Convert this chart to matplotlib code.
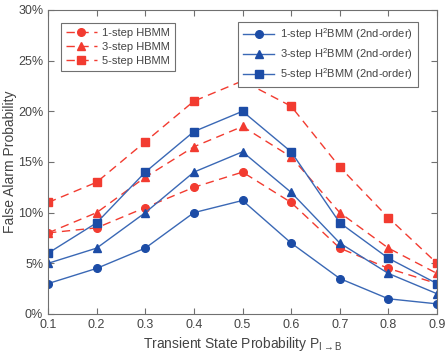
import numpy as np
import matplotlib.pyplot as plt
from matplotlib.ticker import PercentFormatter

plt.rcParams['font.family'] = ['Liberation Sans', 'DejaVu Sans']
plt.rcParams['mathtext.fontset'] = 'custom'
plt.rcParams['mathtext.rm'] = 'Liberation Sans'
plt.rcParams['mathtext.it'] = 'Liberation Sans'

# transient state probability
p = [0.1, 0.2, 0.3, 0.4, 0.5, 0.6, 0.7, 0.8, 0.9]

# false alarm probability (%)
h2_1 = [3.0, 4.5, 6.5, 10.0, 11.2, 7.0, 3.5, 1.5, 1.0]
h2_3 = [5.0, 6.5, 10.0, 14.0, 16.0, 12.0, 7.0, 4.0, 2.0]
h2_5 = [6.0, 9.0, 14.0, 18.0, 20.0, 16.0, 9.0, 5.5, 3.0]
hb_1 = [8.0, 8.5, 10.5, 12.5, 14.0, 11.0, 6.5, 4.5, 3.0]
hb_3 = [8.0, 10.0, 13.5, 16.5, 18.5, 15.5, 10.0, 6.5, 4.0]
hb_5 = [11.0, 13.0, 17.0, 21.0, 23.0, 20.5, 14.5, 9.5, 5.0]

red = '#f23b30'
blue_line = '#3a68b5'
blue_mk = '#1c4ca6'
grey = '#444444'
axgrey = '#707070'

fig = plt.figure(figsize=(4.45, 3.54), dpi=100)
ax = fig.add_axes([0.108, 0.113, 0.874, 0.859])

l_r = []
for y, m in [(hb_1, 'o'), (hb_3, '^'), (hb_5, 's')]:
    l, = ax.plot(p, y, '--', color=red, lw=1.0, marker=m, ms=5.5,
                 mfc=red, mec=red, dashes=(6, 4))
    l_r.append(l)

l_b = []
for y, m in [(h2_1, 'o'), (h2_3, '^'), (h2_5, 's')]:
    l, = ax.plot(p, y, '-', color=blue_line, lw=1.0, marker=m, ms=5.5,
                 mfc=blue_mk, mec=blue_mk)
    l_b.append(l)

ax.set_xlim(0.1, 0.9)
ax.set_ylim(0, 30)
ax.set_xticks(p)
ax.set_yticks(np.arange(0, 31, 5))
ax.yaxis.set_major_formatter(PercentFormatter(decimals=0))
ax.tick_params(direction='in', top=True, right=True, labelsize=9,
               colors=axgrey, labelcolor=grey, length=4, width=0.8)
for s in ax.spines.values():
    s.set_color(axgrey)
    s.set_linewidth(0.8)

ax.set_xlabel(r'Transient State Probability P$_{I\rightarrow B}$', fontsize=10,
              color=grey, labelpad=3)
ax.set_ylabel('False Alarm Probability', fontsize=10, color=grey, labelpad=1)

leg1 = ax.legend(l_r, ['1-step HBMM', '3-step HBMM', '5-step HBMM'],
                 loc='upper left', bbox_to_anchor=(0.018, 0.975), fontsize=8,
                 fancybox=False, edgecolor=axgrey, framealpha=1,
                 handlelength=2.8, labelspacing=0.35, borderpad=0.45,
                 handletextpad=0.5)
leg1.get_frame().set_linewidth(0.8)
for t in leg1.get_texts():
    t.set_color(grey)
ax.add_artist(leg1)

leg2 = ax.legend(l_b, [r'1-step H$^2$BMM (2nd-order)',
                       r'3-step H$^2$BMM (2nd-order)',
                       r'5-step H$^2$BMM (2nd-order)'],
                 loc='upper right', bbox_to_anchor=(0.965, 0.98), fontsize=8,
                 fancybox=False, edgecolor=axgrey, framealpha=1,
                 handlelength=2.8, labelspacing=0.35, borderpad=0.45,
                 handletextpad=0.5)
leg2.get_frame().set_linewidth(0.8)
for t in leg2.get_texts():
    t.set_color(grey)

fig.savefig('out.png', dpi=100)
